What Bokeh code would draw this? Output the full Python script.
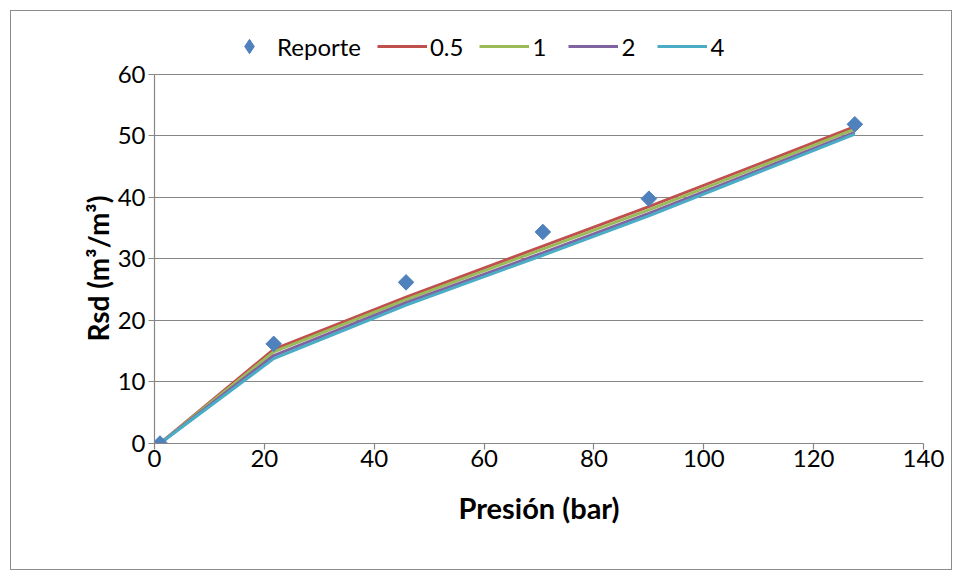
import math
from bokeh.plotting import figure
from bokeh.models import Range1d, FixedTicker, Legend, LegendItem, Title
from bokeh.embed import file_html
from bokeh.resources import INLINE

# Data
presion = [1, 21.7, 45.8, 70.7, 90.0, 127.5]
reporte = [0, 16.2, 26.2, 34.4, 39.8, 51.9]
s05 = [0, 15.3, 23.8, 32.1, 38.5, 51.5]
s1 = [0, 14.9, 23.4, 31.6, 38.0, 51.1]
s2 = [0, 14.3, 22.9, 31.0, 37.4, 50.6]
s4 = [0, 13.8, 22.5, 30.6, 37.0, 50.3]
series_names = ["0.5", "1", "2", "4"]
series_values = [s05, s1, s2, s4]
series_colors = ["#C0504D", "#9BBB59", "#8064A2", "#4BACC6"]
x_ticks = [0, 20, 40, 60, 80, 100, 120, 140]
y_ticks = [0, 10, 20, 30, 40, 50, 60]

FONT = "Lato"
GREY = "#868686"

# frame extends above the 60 gridline to host the legend
p = figure(frame_width=769, frame_height=417,
           x_range=Range1d(0, 140), y_range=Range1d(0, 67.8),
           output_backend="svg", toolbar_location=None,
           min_border_left=143, min_border_top=15,
           min_border_right=28, min_border_bottom=126)
p.margin = (10, 10, 10, 10)
p.styles = {"border": "1px solid #8c8c8c"}
p.outline_line_color = None
p.background_fill_color = "white"
p.border_fill_color = "white"

p.xgrid.grid_line_color = None
p.ygrid.grid_line_color = GREY
p.ygrid.grid_line_width = 1.2
p.xaxis.ticker = FixedTicker(ticks=x_ticks)
p.yaxis.ticker = FixedTicker(ticks=y_ticks)
p.yaxis.bounds = (y_ticks[0], y_ticks[-1])
for ax in (p.xaxis[0], p.yaxis[0]):
    ax.axis_line_color = GREY
    ax.axis_line_width = 1.2
    ax.major_tick_line_color = GREY
    ax.major_tick_line_width = 1.2
    ax.major_tick_in = 0
    ax.major_tick_out = 6
    ax.minor_tick_line_color = None
    ax.major_label_text_font = FONT
    ax.major_label_text_font_size = "24px"
    ax.major_label_text_color = "black"
    ax.axis_label_text_font = FONT
    ax.axis_label_text_font_size = "29px"
    ax.axis_label_text_font_style = "bold"
    ax.axis_label_text_color = "black"

p.xaxis.axis_label = "Presión (bar)"
p.xaxis.major_label_standoff = 0
p.yaxis.major_label_standoff = 3
p.xaxis.axis_label_standoff = 20

# y-axis title as a side title so it can be shifted along the axis
ytitle = Title(text="Rsd (m³/m³)", align="left", offset=102, standoff=0,
               text_font=FONT, text_font_size="28px", text_font_style="bold",
               text_color="black")
p.add_layout(ytitle, "left")

line_renderers = []
for name, vals, col in zip(series_names, series_values, series_colors):
    r = p.line(presion, vals, line_color=col, line_width=3)
    line_renderers.append((name, r))
p.scatter(presion, reporte, marker="square", size=11, angle=math.pi / 4,
          fill_color="#4F81BD", line_color="#4F81BD")
# hidden proxy renderer so the legend shows a diamond
proxy = p.scatter(presion, reporte, marker="diamond", size=17,
                  fill_color="#4F81BD", line_color="#4F81BD", visible=False)

items = [LegendItem(label="Reporte", renderers=[proxy])]
for name, r in line_renderers:
    items.append(LegendItem(label=name, renderers=[r]))

legend = Legend(items=items, orientation="horizontal", location=(70, 379),
                label_text_font=FONT, label_text_font_size="24px",
                label_text_color="black",
                glyph_width=50, glyph_height=36, label_standoff=3,
                spacing=16, padding=0, margin=0,
                inactive_fill_alpha=0,
                border_line_color=None, background_fill_alpha=0)
p.add_layout(legend, "center")

open("out.html", "w").write(file_html(p, INLINE))
